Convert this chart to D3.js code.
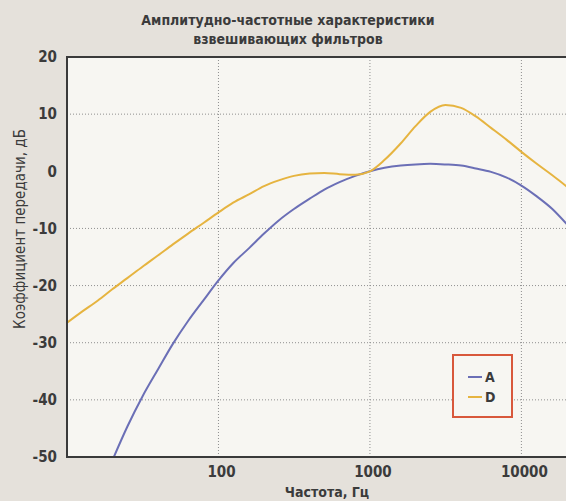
<!DOCTYPE html>
<html lang="ru">
<head>
    <meta charset="UTF-8">
    <title>АЧХ взвешивающих фильтров</title>
    <style>
        body {
            margin: 0;
            padding: 0;
            background-color: #e5e1db;
            font-family: "DejaVu Sans Condensed", "Liberation Sans Narrow", sans-serif;
        }

        .grid line {
            stroke: #8f8f8f;
            stroke-width: 1px;
            stroke-dasharray: 1, 2;
        }

        .tick-label {
            fill: #3b3b3b;
            font-size: 15px;
            font-weight: bold;
        }
    </style>
</head>
<body>
    <div id="container"></div>

    <script src="https://d3js.org/d3.v7.min.js"></script>
    <script>
        // Frequencies, Hz (third-octave points)
        const freqs = [10, 12.5, 16, 20, 25, 31.5, 40, 50, 63, 80, 100, 125, 160, 200, 250, 315,
            400, 500, 630, 800, 1000, 1250, 1600, 2000, 2500, 3150, 4000, 5000, 6300, 8000,
            10000, 12500, 16000, 20000];

        // A-weighting, dB (starts below the frame)
        const aFreqs = freqs.slice(3);
        const aValues = [-50.5, -44.7, -39.4, -34.6, -30.2, -26.2, -22.5, -19.1, -16.1, -13.4, -10.9,
            -8.6, -6.6, -4.8, -3.2, -1.9, -0.8, 0.0, 0.6, 1.0, 1.2, 1.3, 1.2, 1.0, 0.5, -0.1,
            -1.1, -2.5, -4.3, -6.6, -9.3];

        // D-weighting, dB
        const dValues = [-26.5, -24.6, -22.6, -20.6, -18.7, -16.7, -14.7, -12.8, -10.9, -9.0, -7.2,
            -5.5, -4.0, -2.6, -1.6, -0.8, -0.4, -0.3, -0.5, -0.6, 0.0, 2.0, 4.9, 7.9, 10.4,
            11.6, 11.1, 9.6, 7.6, 5.5, 3.4, 1.4, -0.7, -2.7];

        const xTicks = [100, 1000, 10000];
        const yTicks = [20, 10, 0, -10, -20, -30, -40, -50];

        const series = [
            {name: "A", color: "#6b6fb6", f: aFreqs, v: aValues},
            {name: "D", color: "#e6b440", f: freqs, v: dValues}
        ];

        const width = 566;
        const height = 501;

        const svg = d3.select("#container")
            .append("svg")
            .attr("width", width)
            .attr("height", height)
            .style("display", "block")
            .style("background-color", "#e5e1db");

        const x = d3.scaleLog()
            .domain([10, 20000])
            .range([67, 567]);

        const y = d3.scaleLinear()
            .domain([-50, 20])
            .range([457, 57]);

        // Plot background
        svg.append("rect")
            .attr("x", x.range()[0])
            .attr("y", y(20))
            .attr("width", x.range()[1] - x.range()[0])
            .attr("height", y(-50) - y(20))
            .attr("fill", "#f7f6f2");

        // Grid (no line at 0)
        const grid = svg.append("g").attr("class", "grid");
        grid.selectAll(".hgrid")
            .data(yTicks.filter(d => d !== 20 && d !== -50 && d !== 0))
            .enter()
            .append("line")
            .attr("x1", x.range()[0])
            .attr("x2", x.range()[1])
            .attr("y1", d => y(d))
            .attr("y2", d => y(d));

        grid.selectAll(".vgrid")
            .data(xTicks)
            .enter()
            .append("line")
            .attr("x1", d => x(d))
            .attr("x2", d => x(d))
            .attr("y1", y(20))
            .attr("y2", y(-50));

        // Clip curves to the frame
        svg.append("clipPath")
            .attr("id", "plot-clip")
            .append("rect")
            .attr("x", x.range()[0])
            .attr("y", y(20))
            .attr("width", x.range()[1] - x.range()[0])
            .attr("height", y(-50) - y(20));

        const line = d3.line()
            .x(d => x(d[0]))
            .y(d => y(d[1]))
            .curve(d3.curveMonotoneX);

        svg.append("g")
            .attr("clip-path", "url(#plot-clip)")
            .selectAll("path")
            .data(series)
            .enter()
            .append("path")
            .attr("d", s => line(s.f.map((f, i) => [f, s.v[i]])))
            .attr("fill", "none")
            .attr("stroke", s => s.color)
            .attr("stroke-width", 2);

        // Frame
        svg.append("rect")
            .attr("x", x.range()[0])
            .attr("y", y(20))
            .attr("width", x.range()[1] - x.range()[0] + 4)
            .attr("height", y(-50) - y(20))
            .attr("fill", "none")
            .attr("stroke", "#3a3a3a")
            .attr("stroke-width", 2);

        // Axis labels
        svg.selectAll(".ylab")
            .data(yTicks)
            .enter()
            .append("text")
            .attr("class", "tick-label")
            .attr("x", 57)
            .attr("y", d => y(d))
            .attr("dy", "0.35em")
            .attr("text-anchor", "end")
            .text(d => d);

        svg.selectAll(".xlab")
            .data(xTicks)
            .enter()
            .append("text")
            .attr("class", "tick-label")
            .attr("x", d => x(d) + 3)
            .attr("y", 477)
            .attr("text-anchor", "middle")
            .text(d => d);

        svg.append("text")
            .attr("class", "tick-label")
            .attr("x", 327)
            .attr("y", 497)
            .attr("text-anchor", "middle")
            .style("font-size", "14px")
            .text("Частота, Гц");

        svg.append("text")
            .attr("class", "tick-label")
            .attr("transform", "translate(25,229) rotate(-90)")
            .attr("text-anchor", "middle")
            .style("font-size", "15px")
            .style("font-weight", "normal")
            .text("Коэффициент передачи, дБ");

        // Title
        const title = svg.append("text")
            .attr("class", "tick-label")
            .attr("text-anchor", "middle")
            .style("font-size", "14px");
        title.append("tspan").attr("x", 288).attr("y", 25).text("Амплитудно-частотные характеристики");
        title.append("tspan").attr("x", 288).attr("y", 44).text("взвешивающих фильтров");

        // Legend
        const legend = svg.append("g").attr("transform", "translate(453,355)");
        legend.append("rect")
            .attr("width", 59)
            .attr("height", 62)
            .attr("fill", "#f7f6f2")
            .attr("stroke", "#d8583c")
            .attr("stroke-width", 2);

        const entry = legend.selectAll(".entry")
            .data(series)
            .enter()
            .append("g")
            .attr("transform", (d, i) => `translate(0,${22 + i * 20})`);
        entry.append("line")
            .attr("x1", 15)
            .attr("x2", 29)
            .attr("stroke", d => d.color)
            .attr("stroke-width", 2);
        entry.append("text")
            .attr("class", "tick-label")
            .attr("x", 32)
            .attr("dy", "0.35em")
            .style("font-size", "14px")
            .text(d => d.name);
    </script>
</body>
</html>
